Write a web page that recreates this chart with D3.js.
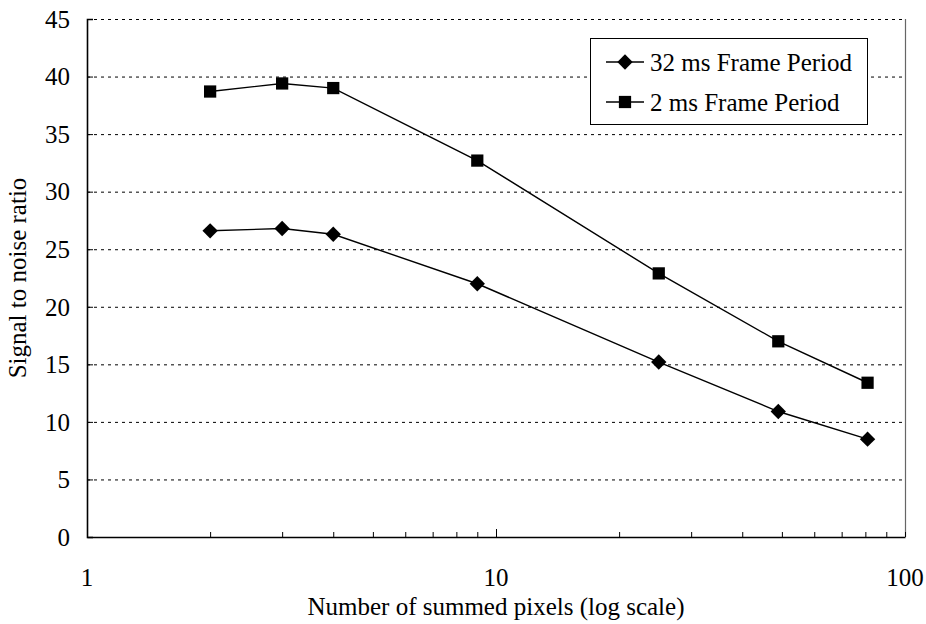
<!DOCTYPE html>
<html>
<head>
<meta charset="utf-8">
<script src="https://cdn.jsdelivr.net/npm/d3@7"></script>
<style>
  html, body { margin: 0; padding: 0; background: #fff; }
  svg { display: block; }
  text { font-family: "Liberation Serif", "DejaVu Serif", serif; }
</style>
</head>
<body>
<svg id="chart" width="926" height="624"></svg>
<script>
// Summed pixel counts (x) and signal-to-noise ratio for each frame period
const pixels = [2, 3, 4, 9, 25, 49, 81];
const snr32ms = [26.6, 26.8, 26.3, 22.0, 15.2, 10.9, 8.5];
const snr2ms = [38.7, 39.4, 39.0, 32.7, 22.9, 17.0, 13.4];
const seriesNames = ["32 ms Frame Period", "2 ms Frame Period"];
const yTicks = [0, 5, 10, 15, 20, 25, 30, 35, 40, 45];
const xLabelTicks = [1, 10, 100];

const FONT = "'Liberation Serif', 'DejaVu Serif', serif";
const FS = 25;
const svg = d3.select("#chart");
const m = { left: 87, right: 905, top: 19, bottom: 537 };

const x = d3.scaleLog().domain([1, 100]).range([m.left, m.right]);
const y = d3.scaleLinear().domain([0, 45]).range([m.bottom, m.top]);

// Dotted horizontal gridlines
svg.append("g").selectAll("line")
  .data(yTicks.filter(t => t > 0))
  .join("line")
  .attr("x1", m.left).attr("x2", m.right)
  .attr("y1", d => y(d) + 0.5).attr("y2", d => y(d) + 0.5)
  .attr("stroke", "#000").attr("stroke-width", 1)
  .attr("stroke-dasharray", "3,4");

// Right border
svg.append("line")
  .attr("x1", m.right + 0.5).attr("x2", m.right + 0.5)
  .attr("y1", m.top).attr("y2", m.bottom)
  .attr("stroke", "#666").attr("stroke-width", 1.2);

// Y axis with inward ticks
const yAxis = svg.append("g")
  .attr("transform", `translate(${m.left},0)`)
  .call(d3.axisRight(y).tickValues(yTicks).tickSize(6).tickFormat(""));
yAxis.select(".domain").attr("stroke-width", 1.6);
svg.append("g").selectAll("text")
  .data(yTicks).join("text")
  .attr("x", m.left - 17).attr("y", d => y(d))
  .attr("dy", "0.35em").attr("text-anchor", "end")
  .attr("font-family", FONT)
  .attr("font-size", FS).text(d => d);

// X axis (log) with inward minor ticks
const allXTicks = x.ticks();
const xAxis = svg.append("g")
  .attr("transform", `translate(0,${m.bottom})`)
  .call(d3.axisTop(x).tickValues(allXTicks).tickSize(5).tickFormat("").tickSizeOuter(0));
xAxis.select(".domain").attr("stroke-width", 1.6);
xAxis.selectAll(".tick line").attr("y2", d => (d === 10 ? -8 : -5));
svg.append("g").selectAll("text")
  .data(xLabelTicks).join("text")
  .attr("x", d => x(d)).attr("y", m.bottom + 49)
  .attr("text-anchor", "middle")
  .attr("font-family", FONT)
  .attr("font-size", FS).text(d => d);

// Axis titles
svg.append("text")
  .attr("x", (m.left + m.right) / 2).attr("y", 615)
  .attr("text-anchor", "middle").attr("font-size", FS)
  .attr("font-family", FONT)
  .text("Number of summed pixels (log scale)");
svg.append("text")
  .attr("transform", `translate(26,${(m.top + m.bottom) / 2}) rotate(-90)`)
  .attr("text-anchor", "middle").attr("font-size", FS)
  .attr("font-family", FONT)
  .text("Signal to noise ratio");

// Series lines and markers
const line = d3.line().x((d, i) => x(pixels[i])).y(d => y(d));
const diamond = d3.symbol().type(d3.symbolDiamond2).size(150);
const square = d3.symbol().type(d3.symbolSquare).size(150);

svg.append("path").datum(snr32ms).attr("d", line)
  .attr("fill", "none").attr("stroke", "#000").attr("stroke-width", 1.4);
svg.append("path").datum(snr2ms).attr("d", line)
  .attr("fill", "none").attr("stroke", "#000").attr("stroke-width", 1.4);

svg.append("g").selectAll("path")
  .data(snr32ms).join("path")
  .attr("transform", (d, i) => `translate(${x(pixels[i])},${y(d)})`)
  .attr("d", diamond).attr("fill", "#000");
svg.append("g").selectAll("path")
  .data(snr2ms).join("path")
  .attr("transform", (d, i) => `translate(${x(pixels[i])},${y(d)})`)
  .attr("d", square).attr("fill", "#000");

// Legend
const lg = svg.append("g");
lg.append("rect")
  .attr("x", 590.5).attr("y", 38.5).attr("width", 277).attr("height", 86)
  .attr("fill", "#fff").attr("stroke", "#000").attr("stroke-width", 1);
const legendRows = [
  { name: seriesNames[0], sym: diamond, cy: 62 },
  { name: seriesNames[1], sym: square, cy: 102 }
];
legendRows.forEach(r => {
  lg.append("line").attr("x1", 606).attr("x2", 644)
    .attr("y1", r.cy).attr("y2", r.cy)
    .attr("stroke", "#000").attr("stroke-width", 1.4);
  lg.append("path").attr("transform", `translate(625,${r.cy})`)
    .attr("d", r.sym).attr("fill", "#000");
  lg.append("text").attr("x", 650).attr("y", r.cy).attr("dy", "0.35em")
    .attr("font-family", FONT)
    .attr("font-size", FS).text(r.name);
});
</script>
</body>
</html>
